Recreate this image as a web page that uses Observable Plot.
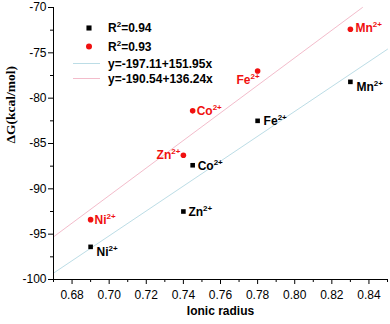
<!DOCTYPE html>
<html>
<head>
<meta charset="utf-8">
<script src="https://cdn.jsdelivr.net/npm/d3@7"></script>
<script src="https://cdn.jsdelivr.net/npm/@observablehq/plot@0.6"></script>
<style>
  html, body { margin: 0; padding: 0; background: #fff; }
  #chart svg { display: block; }
</style>
</head>
<body>
<div id="chart"></div>
<script>
// ---- data ----
const ions = ["Ni", "Zn", "Co", "Fe", "Mn"];
const radius = [0.69, 0.74, 0.745, 0.78, 0.83];
const dGBlack = [-96.4, -92.5, -87.4, -82.5, -78.2];
const dGRed = [-93.4, -86.3, -81.4, -77.0, -72.4];

// fitted lines (end points)
const blueFitX = [0.67, 0.85];
const blueFitY = [-99.3, -74.6];
const redFitX = [0.67, 0.8365];
const redFitY = [-95.3, -70];

const xTicks = [0.68, 0.70, 0.72, 0.74, 0.76, 0.78, 0.80, 0.82, 0.84];
const xMinor = [0.67, 0.69, 0.71, 0.73, 0.75, 0.77, 0.79, 0.81, 0.83, 0.85];
const yTicks = [-100, -95, -90, -85, -80, -75, -70];
const yMinor = [-97.5, -92.5, -87.5, -82.5, -77.5, -72.5];

const legendLabels = ["R^{2}=0.94", "R^{2}=0.93", "y=-197.11+151.95x", "y=-190.54+136.24x"];
const xLabel = "Ionic radius";
const yLabel = "ΔG(kcal/mol)";

// ---- styles ----
const RED = "#f01010";
const BLUE_LINE = "#bcdde6";
const PINK_LINE = "#f3bccb";
const labelFont = "Liberation Sans, Arial, sans-serif";

const black = ions.map((ion, i) => ({ion, x: radius[i], y: dGBlack[i], label: ion + "^{2+}"}));
const red = ions.map((ion, i) => ({ion, x: radius[i], y: dGRed[i], label: ion + "^{2+}"}));
const blueFit = blueFitX.map((x, i) => ({x, y: blueFitY[i]}));
const redFit = redFitX.map((x, i) => ({x, y: redFitY[i]}));

// label offsets (style only)
const blackOff = {Ni: [6, 5, "start"], Zn: [5, 1, "start"], Co: [5, 1, "start"], Fe: [6, 0, "start"], Mn: [6, 5, "start"]};
const redOff = {Ni: [4, 0, "start"], Zn: [-3, 0, "end"], Co: [4, 0, "start"], Fe: [2, 9, "end"], Mn: [5, -1, "start"]};

const labelMarks = [];
for (const d of black) {
  const [dx, dy, anchor] = blackOff[d.ion];
  labelMarks.push(Plot.text([d], {x: "x", y: "y", text: "label", dx, dy, textAnchor: anchor,
    fill: "black", fontWeight: "bold", fontSize: 12}));
}
for (const d of red) {
  const [dx, dy, anchor] = redOff[d.ion];
  labelMarks.push(Plot.text([d], {x: "x", y: "y", text: "label", dx, dy, textAnchor: anchor,
    fill: RED, fontWeight: "bold", fontSize: 12}));
}

const chart = Plot.plot({
  width: 390,
  height: 324,
  marginLeft: 53,
  marginRight: 3,
  marginTop: 7,
  marginBottom: 45,
  style: {fontFamily: labelFont, fontSize: "12px", color: "black", background: "white", overflow: "visible"},
  x: {domain: [0.67, 0.85]},
  y: {domain: [-100, -70]},
  marks: [
    Plot.line(blueFit, {x: "x", y: "y", stroke: BLUE_LINE, strokeWidth: 1}),
    Plot.line(redFit, {x: "x", y: "y", stroke: PINK_LINE, strokeWidth: 1}),
    Plot.axisX(xTicks, {tickSize: 5, tickPadding: 6, tickFormat: d => d.toFixed(2), fontSize: 12, label: null}),
    Plot.axisX(xMinor, {tickSize: 3, tickFormat: () => "", label: null}),
    Plot.axisY(yTicks, {tickSize: 5, tickPadding: 2, tickFormat: d => String(d), fontSize: 12, label: null}),
    Plot.axisY(yMinor, {tickSize: 3, tickFormat: () => "", label: null}),
    Plot.ruleX([0.67], {stroke: "black"}),
    Plot.ruleY([-100], {stroke: "black"}),
    Plot.dot(black, {x: "x", y: "y", symbol: "square", r: 2.6, fill: "black", stroke: "none"}),
    Plot.dot(red, {x: "x", y: "y", symbol: "circle", r: 2.8, fill: RED, stroke: "none"}),
    ...labelMarks,
    Plot.text([xLabel], {frameAnchor: "bottom", text: d => d, dy: 35, fontWeight: "bold", fontSize: 12}),
    Plot.text([yLabel], {frameAnchor: "left", text: d => d, dx: -43, rotate: -90, fontWeight: "bold",
      fontSize: 13.5, fontFamily: "Liberation Serif, Times New Roman, serif"})
  ]
});

document.getElementById("chart").appendChild(chart);

// ---- legend ----
const svg = d3.select(chart);
const lg = svg.append("g")
  .attr("font-family", labelFont).attr("font-size", 12).attr("font-weight", "bold")
  .attr("text-anchor", "start");
const rowsY = [28, 46.5, 63.5, 78.5];
lg.append("path").attr("d", d3.symbol(d3.symbolSquare, 26)()).attr("transform", `translate(89,${rowsY[0]})`).attr("fill", "black");
lg.append("circle").attr("cx", 89).attr("cy", rowsY[1]).attr("r", 3).attr("fill", RED);
lg.append("line").attr("x1", 73).attr("x2", 100).attr("y1", rowsY[2]).attr("y2", rowsY[2]).attr("stroke", BLUE_LINE);
lg.append("line").attr("x1", 73).attr("x2", 100).attr("y1", rowsY[3]).attr("y2", rowsY[3]).attr("stroke", PINK_LINE);
legendLabels.forEach((t, i) => {
  lg.append("text").attr("x", 108).attr("y", rowsY[i]).attr("dy", "0.36em").attr("fill", "black").text(t);
});

// ---- superscripts: turn "a^{b}c" into tspans ----
chart.querySelectorAll("text").forEach(el => {
  const s = el.textContent;
  if (!s.includes("^{")) return;
  const m = s.match(/^(.*?)\^\{(.*?)\}(.*)$/);
  if (!m) return;
  while (el.firstChild) el.removeChild(el.firstChild);
  const ns = "http://www.w3.org/2000/svg";
  const t1 = document.createElementNS(ns, "tspan"); t1.textContent = m[1]; el.appendChild(t1);
  const t2 = document.createElementNS(ns, "tspan"); t2.textContent = m[2];
  t2.setAttribute("dy", "-5"); t2.setAttribute("font-size", "8"); el.appendChild(t2);
  if (m[3]) {
    const t3 = document.createElementNS(ns, "tspan"); t3.textContent = m[3];
    t3.setAttribute("dy", "5"); el.appendChild(t3);
  }
});
</script>
</body>
</html>
